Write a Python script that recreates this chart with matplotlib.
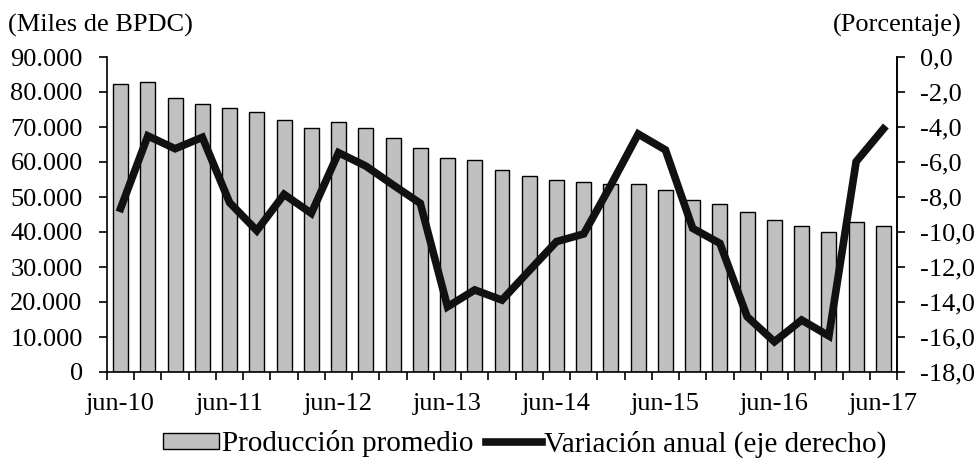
import matplotlib
matplotlib.use("Agg")
import matplotlib.pyplot as plt
import numpy as np
from matplotlib.ticker import FuncFormatter, FixedLocator

plt.rcParams['font.family'] = ['Liberation Serif', 'DejaVu Serif']

quarters = ['jun-10', 'sep-10', 'dic-10', 'mar-11', 'jun-11', 'sep-11', 'dic-11', 'mar-12',
            'jun-12', 'sep-12', 'dic-12', 'mar-13', 'jun-13', 'sep-13', 'dic-13', 'mar-14',
            'jun-14', 'sep-14', 'dic-14', 'mar-15', 'jun-15', 'sep-15', 'dic-15', 'mar-16',
            'jun-16', 'sep-16', 'dic-16', 'mar-17', 'jun-17']
produccion = [82300, 82900, 78300, 76700, 75400, 74300, 72000, 69700,
              71400, 69700, 66900, 64000, 61100, 60700, 57800, 56000,
              54900, 54300, 53700, 53700, 52000, 49100, 48000, 45700,
              43400, 41800, 40100, 42900, 41800]
variacion = [-8.65, -4.51, -5.24, -4.59, -8.32, -9.92, -7.85, -8.93,
             -5.47, -6.23, -7.31, -8.36, -14.27, -13.31, -13.89, -12.21,
             -10.55, -10.11, -7.31, -4.40, -5.31, -9.79, -10.65, -14.84,
             -16.27, -15.03, -15.94, -5.98, -4.11]
tick_labels = ['jun-10', 'jun-11', 'jun-12', 'jun-13', 'jun-14', 'jun-15', 'jun-16', 'jun-17']

FS = 19

fig = plt.figure(figsize=(9.8, 4.66), dpi=100)
ax = fig.add_axes([107/980, 1-372/466, (897-107)/980, (372-57)/466])
ax2 = ax.twinx()

x = np.arange(len(quarters))
bars = ax.bar(x, produccion, width=0.55, color='#c0c0c0', edgecolor='black', linewidth=1.0,
              label='Producción promedio', zorder=2)
line, = ax2.plot(x, variacion, color='#111111', linewidth=5.5, solid_joinstyle='miter',
                 label='Variación anual (eje derecho)', zorder=3)

ax.set_xlim(-0.5, len(quarters) - 0.5)
ax.set_ylim(0, 90000)
ax.set_yticks(np.arange(0, 90001, 10000))
ax.yaxis.set_major_formatter(FuncFormatter(lambda v, p: f"{int(v):,}".replace(',', '.')))
ax2.set_ylim(-18, 0)
ax2.set_yticks(np.arange(-18, 0.1, 2))
ax2.yaxis.set_major_formatter(FuncFormatter(lambda v, p: f"{v:.1f}".replace('.', ',')))

# x ticks: boundaries as major ticks, labels as minor
ax.xaxis.set_major_locator(FixedLocator(np.arange(-0.5, len(quarters), 1.0)))
ax.set_xticklabels([])
label_pos = [quarters.index(t) for t in tick_labels]
ax.set_xticks(label_pos, minor=True)
ax.set_xticklabels(tick_labels, minor=True)
ax.tick_params(axis='x', which='major', length=5.5, width=1.2, direction='out')
ax.tick_params(axis='x', which='minor', length=0, pad=15, labelsize=FS)
ax.tick_params(axis='y', length=5.5, width=1.2, direction='out', labelsize=FS, pad=12)
ax2.tick_params(axis='y', length=5.5, width=1.2, direction='out', labelsize=FS, pad=11)

for a in (ax, ax2):
    a.spines['top'].set_visible(False)
    for s in ('left', 'right', 'bottom'):
        a.spines[s].set_linewidth(1.2)
ax2.spines['left'].set_visible(False)
ax2.spines['bottom'].set_visible(False)

fig.text(8/980, 1-25/466, '(Miles de BPDC)', fontsize=FS, ha='left', va='center')
fig.text(962/980, 1-25/466, '(Porcentaje)', fontsize=FS, ha='right', va='center')

fig.legend([bars, line], ['Producción promedio', 'Variación anual (eje derecho)'],
           loc='center', bbox_to_anchor=(525/980, 1-444/466), ncol=2, frameon=False,
           fontsize=21, handlelength=1.9, handletextpad=0.1, columnspacing=0.45,
           handleheight=0.45, borderpad=0)

fig.savefig('out.png', dpi=100)
